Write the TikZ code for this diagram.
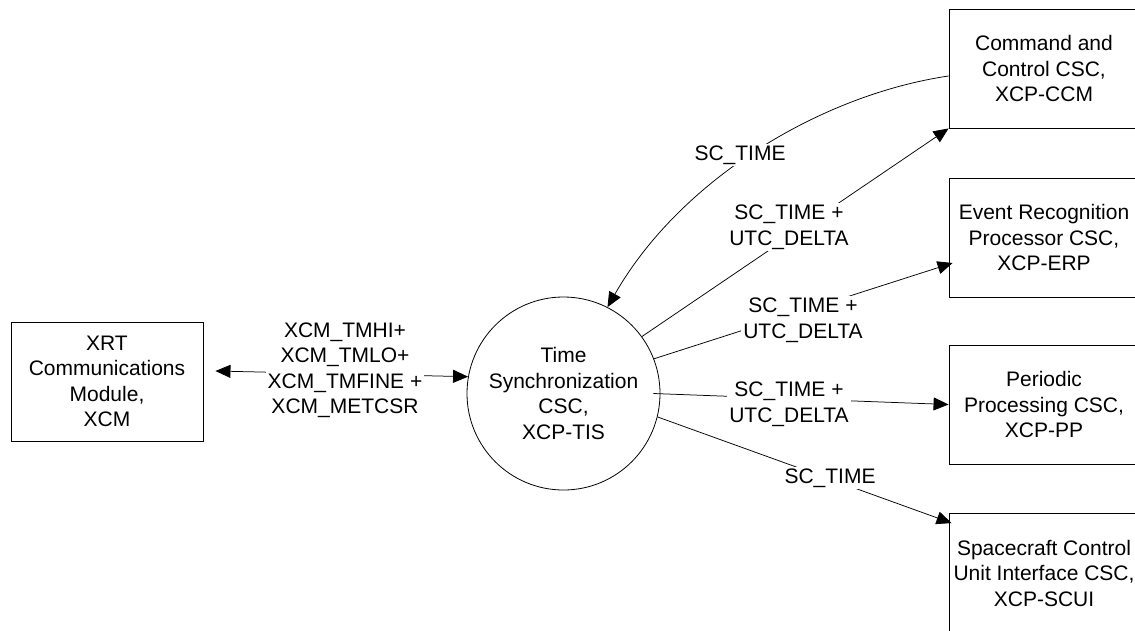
\documentclass[tikz,border=0pt]{standalone}
\usepackage{fontspec}
\setmainfont{Liberation Sans}
\usetikzlibrary{arrows.meta,calc}
\begin{document}
\begin{tikzpicture}[x=1pt,y=-1pt,
  every node/.style={font=\fontsize{21}{25.5}\selectfont, align=center},
  box/.style={draw, line width=0.9pt, minimum width=190pt, minimum height=119pt, inner sep=0pt},
  proc/.style={draw, circle, line width=0.8pt, minimum size=193pt, inner sep=0pt},
  flow/.style={line width=0.75pt, -{Triangle[length=15pt,width=13pt]}},
  flowboth/.style={line width=0.75pt, {Triangle[length=15pt,width=13pt]}-{Triangle[length=15pt,width=13pt]}},
  lbl/.style={fill=white, inner sep=2pt}]
\clip (0,0) rectangle (1135,630);

% external module and the central process
\node[box, minimum width=192pt] (xcm) at (107,381.5) {XRT\\Communications\\Module,\\XCM};
\node[proc] (tis) at (563.5,393.5) {Time\\Synchronization\\CSC,\\XCP-TIS};

% receiving components on the right
\node[box] (ccm)  at (1044,68.5)  {Command and\\Control CSC,\\XCP-CCM};
\node[box] (erp)  at (1044,237.5) {Event Recognition\\Processor CSC,\\XCP-ERP};
\node[box] (pp)   at (1044,404.5) {Periodic\\Processing CSC,\\XCP-PP};
\node[box] (scui) at (1044,573)   {Spacecraft Control\\Unit Interface CSC,\\XCP-SCUI};

\coordinate (xcmtip) at ($(xcm.east)+(12,-10.5)$);

% data flows
\draw[flowboth] (xcmtip) -- (tis.170.5);
\draw[flow] ($(ccm.west)+(0,7.5)$) .. controls (820,95) and (680,180) .. (tis.63);
\draw[flow] (tis.36) -- (ccm.south west);
\draw[flow] (tis.21) -- ($(erp.west)+(4,25.5)$);
\draw[flow] ($(tis.0)+(-7,0)$) -- (pp.west);
\draw[flow] (tis.-14) -- ($(scui.north west)+(3,10)$);

% flow labels
\node[lbl] (lxcm)  at (345,370) {XCM\_TMHI+\\XCM\_TMLO+\\XCM\_TMFINE +\\XCM\_METCSR};
\node[lbl] (lback) at (740,155) {SC\_TIME};
\node[lbl] (lccm)  at (789,227) {SC\_TIME +\\UTC\_DELTA};
\node[lbl] (lerp)  at (803,320) {SC\_TIME +\\UTC\_DELTA};
\node[lbl] (lpp)   at (789,404) {SC\_TIME +\\UTC\_DELTA};
\node[lbl] (lscui) at (830,478) {SC\_TIME};
\end{tikzpicture}
\end{document}
